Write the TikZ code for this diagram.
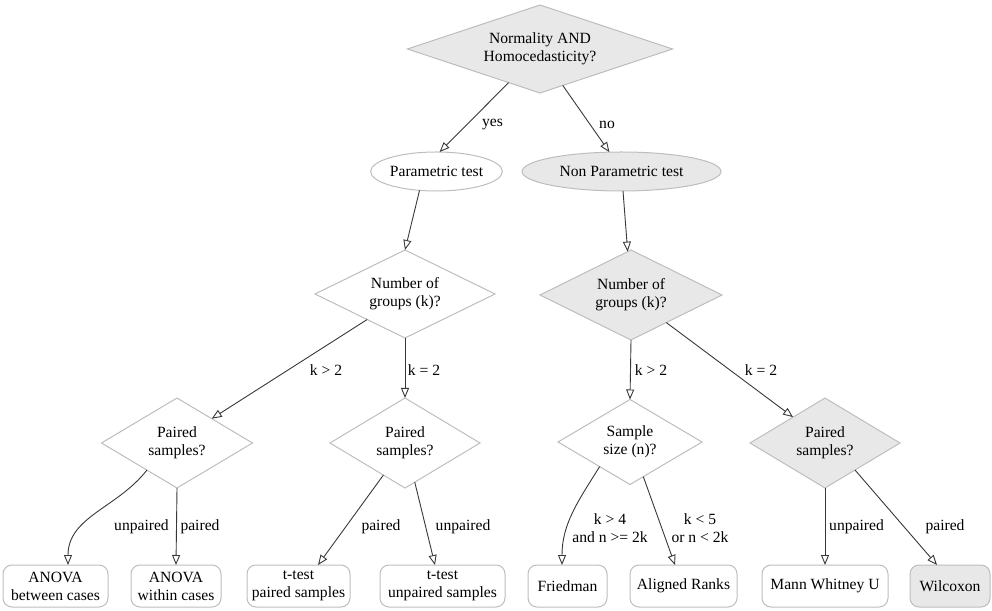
\documentclass[tikz,border=0pt]{standalone}
\usepackage{fontspec}
\setmainfont{Liberation Serif}
\usepackage{xcolor}
\usetikzlibrary{shapes.geometric,arrows.meta}
\definecolor{nodegray}{HTML}{E8E8E8}
\definecolor{bordergray}{HTML}{BDBDBD}
\definecolor{edgegray}{HTML}{383838}
\begin{document}
\begin{tikzpicture}[x=1pt,y=1pt,font=\fontsize{15.6}{18}\selectfont,
		question/.style={diamond,draw=bordergray,line width=1pt,inner sep=0pt,outer sep=0pt,aspect=2,align=center},
		test/.style={ellipse,draw=bordergray,line width=1pt,inner sep=0pt,outer sep=0pt,minimum height=39},
		result/.style={rectangle,rounded corners=9pt,draw=bordergray,line width=1pt,outer sep=0pt,minimum height=42,align=center},
		shaded/.style={fill=nodegray},
		edge/.style={draw=edgegray,line width=.9pt,-{Triangle[open,length=10pt,width=8pt]}},
		lbl/.style={inner sep=0pt,align=center}]
	\useasboundingbox (0,0) rectangle (992,610);
	\node[question,shaded,aspect=3,minimum width=265,minimum height=88] (top) at (540,561) {Normality AND\\Homocedasticity?};
	\node[test,minimum width=127] (par) at (436.5,438.5) {Parametric test};
	\node[test,shaded,minimum width=199] (npar) at (621.5,438.5) {Non Parametric test};
	\node[question,minimum width=180,minimum height=88] (kl) at (405,316) {Number of\\groups (k)?};
	\node[question,shaded,minimum width=182,minimum height=90] (kr) at (631,315) {Number of\\groups (k)?};
	\node[question,minimum width=151,minimum height=90] (p1) at (177,167) {Paired\\samples?};
	\node[question,minimum width=150,minimum height=90] (p2) at (405,167) {Paired\\samples?};
	\node[question,minimum width=144,minimum height=85] (sz) at (630,168) {Sample\\size (n)?};
	\node[question,shaded,minimum width=150,minimum height=90] (p3) at (825,167) {Paired\\samples?};
	\node[result,minimum width=105] (anb) at (55.5,24) {ANOVA\\between cases};
	\node[result,minimum width=90] (anw) at (176,24) {ANOVA\\within cases};
	\node[result,minimum width=103] (ttp) at (298.5,24) {t-test\\paired samples};
	\node[result,minimum width=125] (ttu) at (442.5,24) {t-test\\unpaired samples};
	\node[result,minimum width=79] (fr) at (567.5,24) {Friedman};
	\node[result,minimum width=107] (ar) at (683.5,24) {Aligned Ranks};
	\node[result,minimum width=126] (mw) at (825,24) {Mann Whitney U};
	\node[result,shaded,minimum width=80] (wi) at (950,24) {Wilcoxon};
	\draw[edge] (top.227) -- (par.81);
	\draw[edge] (top.302) -- (npar.122);
	\draw[edge] (par.228) -- (kl.north);
	\draw[edge] (npar) -- (kr);
	\draw[edge] (kl.214) -- (p1.35);
	\draw[edge] (kl.south) -- (p2.north);
	\draw[edge] (kr.south) -- (sz.north);
	\draw[edge] (kr.322) -- (p3.141);
	\draw[edge] (p1.222) to[out=-128,in=90] ([xshift=12.5pt]anb.north);
	\draw[edge] (p1.south) -- (anw.north);
	\draw[edge] (p2.236) -- ([xshift=19.5pt]ttp.north);
	\draw[edge] (p2.284) -- ([xshift=-7.5pt]ttu.north);
	\draw[edge] (sz.219) to[out=-122,in=90] ([xshift=-5.5pt]fr.north);
	\draw[edge] (sz.291) -- ([xshift=-8.5pt]ar.north);
	\draw[edge] (p3.south) -- (mw.north);
	\draw[edge] (p3.318) -- ([xshift=-13pt]wi.north);
	\node[lbl] (lyes) at (492.5,485) {yes};
	\node[lbl] (lno) at (607,485) {no};
	\node[lbl] (lkgl) at (326,240) {k > 2};
	\node[lbl] (lkel) at (424,240) {k = 2};
	\node[lbl] (lkgr) at (651,240) {k > 2};
	\node[lbl] (lker) at (761,240) {k = 2};
	\node[lbl] (lun1) at (141.5,83) {unpaired};
	\node[lbl] (lpa1) at (200,83) {paired};
	\node[lbl] (lpa2) at (381,83) {paired};
	\node[lbl] (lun2) at (463,83) {unpaired};
	\node[lbl] (lbig) at (610,82) {k > 4\\and n >= 2k};
	\node[lbl] (lsmall) at (700,82) {k < 5\\or n < 2k};
	\node[lbl] (lun3) at (856.5,83) {unpaired};
	\node[lbl] (lpa3) at (945,83) {paired};
\end{tikzpicture}
\end{document}
